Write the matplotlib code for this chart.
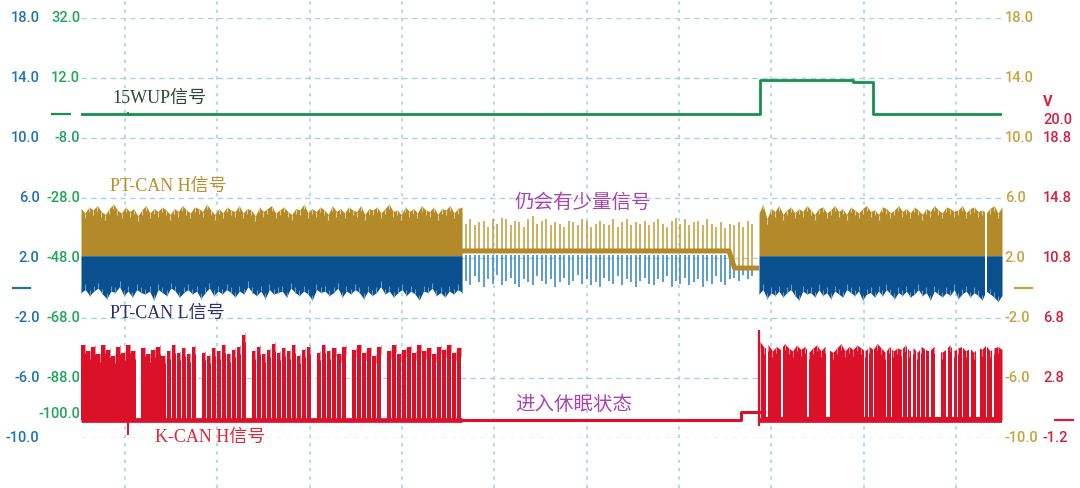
import numpy as np
import matplotlib
matplotlib.use("Agg")
import matplotlib.pyplot as plt

# ---------------- data (time in ms, 100 ms per division) ----------------
grid_t = [0, 100, 200, 300, 400, 500, 600, 700, 800, 900]
t_start, t_end = -47.6, 949.6

# left scale (PT-CAN L, blue) and right scale (PT-CAN H, tan) share display units
blue_ticks = [18.0, 14.0, 10.0, 6.0, 2.0, -2.0, -6.0, -10.0]
tan_ticks = [18.0, 14.0, 10.0, 6.0, 2.0, -2.0, -6.0, -10.0]
green_ticks = [32.0, 12.0, -8.0, -28.0, -48.0, -68.0, -88.0, -100.0]
red_ticks = [20.0, 18.8, 14.8, 10.8, 6.8, 2.8, -1.2]

# 15WUP (green), volts
wup_t = [-47.6, 687.6, 788.0, 809.6, 949.6]
wup_v = [0.0, 11.3, 10.7, 0.0, 0.0]

# PT-CAN active bus (left / right bursts), volts
can_base = 2.15
ptcan_left_t = (-47.6, 365.0)
tan_top_left = [5.3, 5.0, 5.4, 5.2, 5.5, 5.1, 4.9, 5.3, 5.6, 5.2, 5.0, 5.4, 5.1, 5.3, 4.8, 5.2,
                5.5, 5.0, 5.3, 5.1, 5.4, 5.2, 4.9, 5.3, 5.1, 5.5, 5.2, 5.0, 5.4, 5.3, 5.1, 5.6,
                5.2, 4.9, 5.3, 5.0, 5.4, 5.2, 5.1, 5.5, 5.0, 5.3, 5.2, 4.8, 5.4, 5.1, 5.3, 5.5,
                5.0, 5.2, 5.4, 5.1, 4.9, 5.3, 5.2, 5.6, 5.0, 5.3, 5.1, 5.4, 5.2, 4.9, 5.5, 5.1,
                5.3, 5.0, 5.4, 5.2, 5.1, 5.5, 4.9, 5.3, 5.2, 5.4, 5.0, 5.3, 5.6, 5.1, 5.2, 4.9,
                5.4, 5.1, 5.3, 5.0, 5.5, 5.2, 5.1, 5.4, 4.9, 5.3, 5.2, 5.5, 5.0, 5.3, 5.4]
blue_bot_left = [-0.3, -0.1, -0.5, -0.2, 0.0, -0.4, -0.7, -0.2, -0.3, 0.1, -0.5, -0.2, -0.6, -0.1,
                 -0.3, -0.4, -0.2, -0.8, -0.1, -0.3, -0.5, 0.0, -0.2, -0.6, -0.3, -0.1, -0.4, -0.2,
                 -0.7, -0.3, 0.0, -0.5, -0.2, -0.4, -0.1, -0.3, -0.6, -0.2, -0.4, 0.1, -0.3, -0.5,
                 -0.2, -0.7, -0.1, -0.4, -0.3, -0.2, -0.6, 0.0, -0.3, -0.5, -0.2, -0.4, -0.8, -0.1,
                 -0.3, -0.2, -0.5, -0.3, 0.0, -0.6, -0.2, -0.4, -0.1, -0.3, -0.7, -0.2, -0.5, -0.3,
                 0.1, -0.4, -0.2, -0.6, -0.3, -0.1, -0.5, -0.2, -0.4, -0.8, -0.2, -0.3, 0.0, -0.5,
                 -0.3, -0.6, -0.2, -0.4, -0.1, -0.3]
ptcan_right_t = (686.5, 949.6)
tan_top_right = [5.0, 5.6, 4.6, 5.3, 5.1, 5.5, 4.9, 5.2, 5.4, 5.0, 5.3, 5.1, 5.5, 5.2, 4.9, 5.3,
                 5.4, 5.0, 5.2, 5.5, 5.1, 5.3, 4.9, 5.4, 5.2, 5.0, 5.3, 5.5, 5.1, 5.2, 4.9, 5.4,
                 5.3, 5.0, 5.2, 5.5, 5.1, 5.3, 5.0, 5.4, 5.2, 4.9, 5.3, 5.1, 5.5, 5.2, 5.0, 5.4,
                 5.3, 5.1, 5.2, 5.5, 5.0, 5.3, 5.4, 5.1, 5.2, 5.0, 5.3, 5.5, 5.0, 5.4]
blue_bot_right = [-0.4, -0.1, -0.7, -0.3, -0.5, -0.2, -0.6, -0.3, -0.1, -0.5, -0.8, -0.2, -0.4,
                  -0.3, -0.6, -0.1, -0.5, -0.3, -0.7, -0.2, -0.4, -0.6, -0.1, -0.3, -0.5, -0.2,
                  -0.8, -0.4, -0.3, -0.6, -0.2, -0.5, -0.1, -0.4, -0.7, -0.3, -0.5, -0.2, -0.6,
                  -0.4, -0.1, -0.5, -0.3, -0.8, -0.2, -0.4, -0.6, -0.3, -0.5, -0.1, -0.7, -0.4,
                  -0.2, -0.6, -0.3, -0.5, -0.8, -0.2, -0.4, -0.6, -0.9, -0.5]
ptcan_gap_t = [932.0]          # short idle moment inside the right burst

# PT-CAN during sleep transition: residual frames
sleep_t = (369.0, 679.0)
tan_sleep_base, tan_low_base, tan_drop_t = 2.47, 1.33, 658.0
blue_sleep_base, blue_low_base = 2.2, 1.2
tan_sleep_v = [4.3, 4.6, 4.2, 4.4, 4.5, 4.1, 4.6, 4.3, 4.7, 4.6, 4.2, 4.5, 4.4, 4.1, 4.6, 4.8,
               4.3, 4.5, 4.6, 4.2, 4.4, 4.3, 4.1, 4.5, 4.4, 4.2, 4.6, 4.5, 4.1, 4.3, 4.5, 4.3,
               4.2, 4.6, 4.1, 4.4, 4.6, 4.2, 4.4, 4.3, 4.5, 4.2, 4.4, 4.6, 4.3, 4.1, 4.5, 4.7,
               4.3, 4.6, 4.2, 4.4, 4.5, 4.2, 4.6, 4.3, 4.1, 4.4, 4.0, 4.3, 4.2, 4.4, 4.1, 4.5, 4.3]
blue_sleep_v = [0.5, 0.2, 0.8, 0.4, 0.1, 0.6, 0.3, 0.9, 0.2, 0.5, 0.7, 0.3, 0.1, 0.6, 0.4, 0.2,
                0.8, 0.5, 0.3, 0.6, 0.1, 0.4, 0.7, 0.2, 0.5, 0.9, 0.3, 0.6, 0.2, 0.4, 0.1, 0.7,
                0.5, 0.3, 0.8, 0.2, 0.6, 0.4, 0.1, 0.5, 0.7, 0.3, 0.2, 0.6, 0.4, 0.8, 0.1, 0.5,
                0.3, 0.7, 0.2, 0.4, 0.6, 0.1, 0.5, 0.3, 0.8, 0.4, 0.2, 0.6, 0.7, 0.5, 0.9, 0.6, 0.8]

# K-CAN H (red), volts
kcan_left_t = (-45.0, 362.0)
kcan_left_v = [5.0, 4.6, 4.9, 4.4, 5.0, 4.7, 4.3, 4.9, 4.5, 5.0, 4.6, 0, 4.8, 4.4, 4.7, 4.9,
               4.3, 4.6, 5.0, 4.5, 4.8, 4.4, 4.9, 0, 4.5, 4.3, 4.8, 4.6, 5.0, 4.4, 4.7, 4.9,
               5.7, 0, 4.6, 4.9, 4.4, 4.7, 5.1, 4.5, 4.8, 4.6, 5.0, 4.3, 4.7, 4.9, 0, 4.5,
               5.0, 4.6, 4.8, 4.4, 4.9, 0, 4.7, 5.0, 4.5, 4.8, 4.3, 4.9, 0, 4.6, 5.0, 4.4,
               4.7, 4.9, 4.5, 5.0, 4.6, 4.8, 4.4, 4.9, 4.7, 5.0, 4.5, 4.8]
kcan_right_t = (688.0, 949.6)
kcan_right_top = [5.2, 4.8, 5.0, 4.6, 4.9, 4.7, 5.1, 4.8, 4.6, 5.0, 4.7, 4.9, 4.5, 4.8, 5.0, 4.6,
                  4.9, 4.7, 4.5, 4.8, 5.1, 4.6, 4.9, 4.7, 5.0, 4.8, 4.6, 4.9, 4.7, 5.1, 4.8, 4.5,
                  4.9, 4.6, 4.8, 4.7, 5.0, 4.6, 4.8, 4.5, 4.9, 4.7, 4.6, 4.9, 4.8, 4.5, 4.7, 5.0,
                  4.6, 4.8, 4.9, 4.6, 4.8, 4.5, 4.9, 4.7, 5.0, 4.6, 4.8, 4.9, 4.7]
kcan_right_gap_start = [694.6, 709.8, 738.5, 759.0, 800.7, 804.0, 809.4, 824.5, 829.9, 840.8,
                        846.2, 851.6, 857.0, 860.3, 865.7, 871.1, 877.1, 889.5, 896.0, 901.4,
                        905.8, 914.4, 921.5, 932.8, 939.3]
kcan_right_gap_end = [695.7, 713.0, 740.6, 763.4, 801.8, 805.1, 810.5, 825.6, 831.0, 841.9,
                      847.3, 852.7, 858.1, 861.4, 866.8, 872.2, 883.6, 890.6, 897.1, 902.5,
                      906.9, 915.5, 925.8, 933.9, 940.4]
kcan_idle_t = [365.0, 667.0, 667.0, 686.5]
kcan_idle_v = [0.0, 0.0, 0.55, 0.55]
kcan_spike_t = 687.0
kcan_spike_v = (-0.4, 6.0)
trig_t = 3.2
trig_red_v = -1.0

# ---------------- styling ----------------
GRID = "#a9d3e2"
C_BLUE_LBL = "#1f73b3"
C_GREEN_LBL = "#1ea65a"
C_TAN_LBL = "#c9a23e"
C_RED_LBL = "#d81e3c"
C_GREEN = "#13914d"
C_TAN = "#b38a2a"
C_TAN_L = "#e2cf88"
C_BLUE = "#0a4f8e"
C_BLUE_L = "#5d9fd2"
C_BLUE_S = "#2f82c2"
C_RED = "#da1129"
C_RED_L = "#ee8a98"
C_PURPLE = "#a845b2"


def green_disp(v):
    return 18.0 + (np.asarray(v, dtype=float) - 32.0) / 5.0


def red_disp(v):
    return np.asarray(v, dtype=float) - 8.8


def yfrac(d):
    return (float(d) + 10.0) / 28.0


fig = plt.figure(figsize=(10.8, 4.88), dpi=100)
fig.patch.set_facecolor("white")
ax = fig.add_axes([81 / 1080, 50 / 488, 921 / 1080, 420 / 488])
ax.set_xlim(t_start, t_end)
ax.set_ylim(-10, 18)
ax.axis("off")

# grid
for y in blue_ticks:
    ax.axhline(y, color=GRID, lw=1.0, ls=(0, (4, 3)), zorder=0)
for x in grid_t:
    ax.axvline(x, ymin=-0.119, ymax=1.043, color=GRID, lw=1.2, ls=(0, (2, 3)),
               zorder=0, clip_on=False)

# PT-CAN active bursts
for (ta, tb), top, bot in [(ptcan_left_t, tan_top_left, blue_bot_left),
                           (ptcan_right_t, tan_top_right, blue_bot_right)]:
    tt = np.linspace(ta, tb, len(top))
    ax.fill_between(tt, can_base, top, color=C_TAN, lw=0, zorder=2)
    ax.vlines(tt, np.asarray(top) - 0.35, top, color=C_TAN_L, lw=0.8, zorder=2.1)
    tb_ = np.linspace(ta, tb, len(bot))
    ax.fill_between(tb_, bot, can_base, color=C_BLUE, lw=0, zorder=2)
    ax.vlines(tb_, bot, np.asarray(bot) + 0.35, color=C_BLUE_L, lw=0.8, zorder=2.1)
for g in ptcan_gap_t:
    ax.axvspan(g - 1.2, g + 1.2, ymin=yfrac(-0.6), ymax=yfrac(5.2), color="white",
               lw=0, zorder=2.5)

# PT-CAN residual frames during sleep transition
st = np.linspace(sleep_t[0], sleep_t[1], len(tan_sleep_v))
tbase = np.where(st < tan_drop_t, tan_sleep_base, tan_low_base)
bbase = np.where(st < tan_drop_t, blue_sleep_base, blue_low_base)
ax.vlines(st, tbase, tan_sleep_v, color="#c39a36", lw=1.1, zorder=2)
ax.vlines(st, bbase, blue_sleep_v, color=C_BLUE_S, lw=1.1, zorder=2)
ax.plot([ptcan_left_t[1], tan_drop_t - 4, tan_drop_t + 2, ptcan_right_t[0]],
        [tan_sleep_base, tan_sleep_base, tan_low_base, tan_low_base],
        color=C_TAN, lw=3.6, zorder=3, solid_capstyle="butt")

# K-CAN H
kt = np.linspace(kcan_left_t[0], kcan_left_t[1], len(kcan_left_v))
kw = (kcan_left_t[1] - kcan_left_t[0]) / (len(kcan_left_v) - 1)
ax.bar(kt, np.asarray(kcan_left_v), width=kw * 0.84, bottom=red_disp(0.0),
       color=C_RED, lw=0, zorder=3)
lv = np.asarray(kcan_left_v, dtype=float)
ax.vlines(kt[lv > 0] + kw * 0.3, red_disp(lv[lv > 0] - 0.5), red_disp(lv[lv > 0] + 0.1),
          color=C_RED_L, lw=0.7, zorder=3.1)
rt = np.linspace(kcan_right_t[0], kcan_right_t[1], len(kcan_right_top))
ax.fill_between(rt, red_disp(0.0), red_disp(kcan_right_top), color=C_RED, lw=0, zorder=3)
ax.vlines(rt, red_disp(np.asarray(kcan_right_top) - 0.4), red_disp(kcan_right_top),
          color=C_RED_L, lw=0.7, zorder=3.1)
for a, b in zip(kcan_right_gap_start, kcan_right_gap_end):
    ax.axvspan(a, b, ymin=yfrac(red_disp(0.2)), ymax=yfrac(red_disp(5.4)), color="white",
               lw=0, zorder=3.2)
ax.plot([t_start, kcan_left_t[1] + 3], red_disp([0, 0]), color=C_RED, lw=3.4,
        zorder=3.3, solid_capstyle="butt")
ax.plot([kcan_right_t[0] - 1, t_end], red_disp([0, 0]), color=C_RED, lw=3.4,
        zorder=3.3, solid_capstyle="butt")
ax.plot(kcan_idle_t, red_disp(kcan_idle_v), color=C_RED, lw=2.2, zorder=3)
ax.vlines(kcan_spike_t, red_disp(kcan_spike_v[0]), red_disp(kcan_spike_v[1]),
          color=C_RED, lw=1.6, zorder=3.3)
ax.vlines(trig_t, red_disp(trig_red_v), red_disp(0), color=C_RED, lw=1.4, zorder=3)

# 15WUP
ax.step(wup_t, green_disp(wup_v), where="post", color=C_GREEN, lw=2.0, zorder=4)
ax.vlines(trig_t, green_disp(-0.7), green_disp(0.7), color=C_GREEN, lw=1.4, zorder=4)

# ---------------- scale labels ----------------
NUM = dict(family=["Roboto", "DejaVu Sans"], fontsize=10.5, fontweight="medium")
ytr = ax.get_yaxis_transform()
for v in blue_ticks:
    ax.text(-0.045, v, f"{v:.1f}", color=C_BLUE_LBL, ha="right", va="center",
            transform=ytr, clip_on=False, **NUM)
for v in green_ticks:
    ax.text(-0.001, float(green_disp(v)), f"{v:.1f}", color=C_GREEN_LBL, ha="right",
            va="center", transform=ytr, clip_on=False, **NUM)
for v in tan_ticks:
    ax.text(1.003, v, f"{v:.1f}", color=C_TAN_LBL, ha="left", va="center",
            transform=ytr, clip_on=False, **NUM)
for v in red_ticks:
    ax.text(1.0445, float(red_disp(v)), f"{v:.1f}", color=C_RED_LBL, ha="left",
            va="center", transform=ytr, clip_on=False, **NUM)
ax.text(1.0445, float(red_disp(21.2)), "V", color=C_RED_LBL, ha="left", va="center",
        transform=ytr, clip_on=False, family=["Roboto", "DejaVu Sans"], fontsize=10.5,
        fontweight="bold")

# zero-level markers
ax.plot([-0.0738, -0.0554], [0, 0], color=C_BLUE_LBL, lw=1.6, transform=ytr, clip_on=False)
ax.plot([-0.0315, -0.0119], [green_disp(0)] * 2, color=C_GREEN, lw=1.6, transform=ytr,
        clip_on=False)
ax.plot([1.0141, 1.0326], [0, 0], color=C_TAN_LBL, lw=1.6, transform=ytr, clip_on=False)
ax.plot([1.0575, 1.0771], [red_disp(0)] * 2, color=C_RED_LBL, lw=1.6, transform=ytr,
        clip_on=False)

# ---------------- channel annotations ----------------
SER = ["Liberation Serif", "Noto Sans CJK SC"]
ax.text(-14.1, 12.67, "15WUP信号", color="#2a4a35", family=SER, fontsize=13,
        ha="left", va="center", zorder=5)
ax.text(-16.2, 6.8, "PT-CAN H信号", color="#b8902e", family=SER, fontsize=13,
        ha="left", va="center", zorder=5)
ax.text(-16.2, -1.67, "PT-CAN L信号", color="#2b2f6a", family=SER, fontsize=13,
        ha="left", va="center", zorder=5)
ax.text(32.5, -9.93, "K-CAN H信号", color="#e0283a", family=SER, fontsize=13,
        ha="left", va="center", zorder=5)
SANS = ["Noto Sans CJK SC", "DejaVu Sans"]
ax.text(422.3, 5.67, "仍会有少量信号", color=C_PURPLE, family=SANS, fontsize=14,
        ha="left", va="center", zorder=5)
ax.text(422.3, -7.8, "进入休眠状态", color=C_PURPLE, family=SANS, fontsize=14,
        ha="left", va="center", zorder=5)

fig.savefig("out.png", dpi=100, facecolor="white")
